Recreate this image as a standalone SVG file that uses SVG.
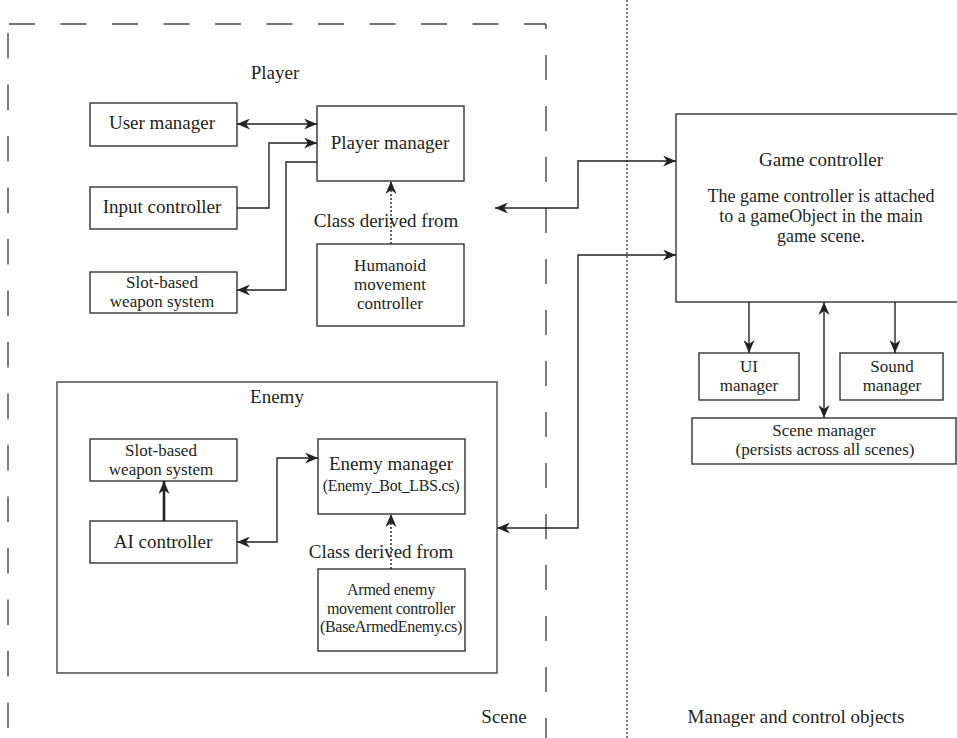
<svg xmlns="http://www.w3.org/2000/svg" width="957" height="738" viewBox="0 0 957 738">
<style>
  .box { fill: #fff; stroke: #333; stroke-width: 1.4; }
  .frame { fill: none; stroke: #444; stroke-width: 1.4; }
  text { font-family: "Liberation Serif", "Times New Roman", serif; font-size: 19px; fill: #231f20; text-anchor: middle; }
  .ml { font-size: 17px; }
  .gc { font-size: 18px; }
  .small { font-size: 16px; letter-spacing: -0.3px; }
  .code { font-size: 16px; letter-spacing: -0.3px; }
  .conn { fill: none; stroke: #222; stroke-width: 1.4; }
  .thick { stroke-width: 2.6; }
  .dotted { stroke-dasharray: 2 2; }
  .dash { fill: none; stroke: #444; stroke-width: 1.4; }
</style>
<defs>
  <marker id="arr" viewBox="0 0 13 11" refX="13" refY="5.5" markerWidth="13" markerHeight="11" orient="auto-start-reverse" markerUnits="userSpaceOnUse">
    <path d="M0,0 L13,5.5 L0,11 L4,5.5 Z" fill="#222"/>
  </marker>
</defs>

<!-- Region separators -->
<g id="scene-frame">
  <line class="dash" x1="9" y1="24" x2="546" y2="24" stroke-dasharray="26 25.5"/>
  <line class="dash" x1="8" y1="33" x2="8" y2="738" stroke-dasharray="25.5 26"/>
  <line class="dash" x1="546" y1="24" x2="546" y2="738" stroke-dasharray="25 26" stroke-dashoffset="20"/>
  <line x1="627" y1="0" x2="627" y2="738" stroke="#333" stroke-width="1.3" stroke-dasharray="2 2"/>
  <text x="504" y="723">Scene</text>
  <text x="796" y="723">Manager and control objects</text>
</g>

<!-- Player group -->
<g id="player-label"><text x="275" y="79">Player</text></g>

<g id="user-manager">
  <rect class="box" x="90" y="103" width="147" height="43"/>
  <text x="162" y="129">User manager</text>
</g>
<g id="input-controller">
  <rect class="box" x="90" y="187" width="147" height="42"/>
  <text x="162" y="213">Input controller</text>
</g>
<g id="player-weapon">
  <rect class="box" x="90" y="272" width="147" height="41"/>
  <text class="ml" x="162" y="288">Slot-based<tspan x="162" dy="19">weapon system</tspan></text>
</g>
<g id="player-manager">
  <rect class="box" x="317" y="106" width="147" height="75"/>
  <text x="390" y="149">Player manager</text>
</g>
<g id="humanoid">
  <rect class="box" x="317" y="244" width="147" height="82"/>
  <text class="ml" x="390" y="271">Humanoid<tspan x="390" dy="19">movement</tspan><tspan x="390" dy="19">controller</tspan></text>
</g>
<g id="player-derived-label"><text x="386" y="227">Class derived from</text></g>

<!-- Enemy group -->
<g id="enemy">
  <rect class="frame" x="57" y="382" width="440" height="291"/>
  <text x="277" y="403">Enemy</text>
</g>
<g id="enemy-weapon">
  <rect class="box" x="90" y="439" width="147" height="42"/>
  <text class="ml" x="161" y="456">Slot-based<tspan x="161" dy="19">weapon system</tspan></text>
</g>
<g id="ai-controller">
  <rect class="box" x="90" y="521" width="147" height="42"/>
  <text x="163" y="548">AI controller</text>
</g>
<g id="enemy-manager">
  <rect class="box" x="318" y="439" width="147" height="75"/>
  <text x="391" y="470">Enemy manager</text>
  <text class="code" x="391" y="491">(Enemy_Bot_LBS.cs)</text>
</g>
<g id="enemy-derived-label"><text x="381" y="558">Class derived from</text></g>
<g id="armed-enemy">
  <rect class="box" x="318" y="569" width="147" height="82"/>
  <text class="small" x="391" y="595">Armed enemy<tspan x="391" dy="18.5">movement controller</tspan><tspan x="391" dy="18.5">(BaseArmedEnemy.cs)</tspan></text>
</g>

<!-- Manager side -->
<g id="game-controller">
  <rect class="box" x="676" y="114" width="300" height="188"/>
  <text x="821" y="166">Game controller</text>
  <text class="gc" x="821" y="202">The game controller is attached<tspan x="821" dy="20">to a gameObject in the main</tspan><tspan x="821" dy="20">game scene.</tspan></text>
</g>
<g id="ui-manager">
  <rect class="box" x="699" y="353" width="100" height="47"/>
  <text class="ml" x="749" y="372">UI<tspan x="749" dy="19">manager</tspan></text>
</g>
<g id="sound-manager">
  <rect class="box" x="840" y="353" width="103" height="47"/>
  <text class="ml" x="892" y="372">Sound<tspan x="892" dy="19">manager</tspan></text>
</g>
<g id="scene-manager">
  <rect class="box" x="692" y="418" width="264" height="46"/>
  <text class="ml" x="824" y="436">Scene manager<tspan x="825" dy="19">(persists across all scenes)</tspan></text>
</g>

<!-- Connectors -->
<g id="connectors">
  <path class="conn" d="M237,124 H317" marker-start="url(#arr)" marker-end="url(#arr)"/>
  <path class="conn" d="M237,208 H269 V143 H317" marker-end="url(#arr)"/>
  <path class="conn" d="M317,162 H286 V290 H237" marker-end="url(#arr)"/>
  <path class="conn dotted" d="M391,244 V181" marker-end="url(#arr)"/>
  <path class="conn" d="M495,208 H578 V161 H676" marker-start="url(#arr)" marker-end="url(#arr)"/>
  <path class="conn" d="M497,528 H578 V255 H676" marker-start="url(#arr)" marker-end="url(#arr)"/>
  <path class="conn" d="M749,302 V353" marker-end="url(#arr)"/>
  <path class="conn" d="M895,302 V353" marker-end="url(#arr)"/>
  <path class="conn" d="M824,302 V418" marker-start="url(#arr)" marker-end="url(#arr)"/>
  <path class="conn thick" d="M164,521 V481" marker-end="url(#arr)"/>
  <path class="conn" d="M237,542 H277 V458 H318" marker-start="url(#arr)" marker-end="url(#arr)"/>
  <path class="conn dotted" d="M391,569 V514" marker-end="url(#arr)"/>
</g>
</svg>
